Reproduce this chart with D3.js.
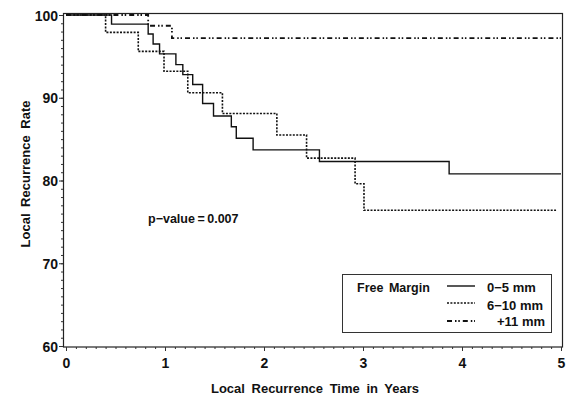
<!DOCTYPE html>
<html><head><meta charset="utf-8">
<script src="https://cdn.jsdelivr.net/npm/d3@7"></script>
<style>body{margin:0;background:#fff}svg{display:block}text{font-family:"Liberation Sans",Arial,sans-serif;font-weight:bold;fill:#111}</style>
</head><body><svg id="c" width="567" height="404"></svg>
<script>
const seriesNames = ["0\u22125  mm", "6\u221210  mm", "+11  mm"];
const solidTimes  = [0, 0.46, 0.83, 0.88, 0.945, 1.11, 1.18, 1.28, 1.38, 1.49, 1.67, 1.72, 1.89, 2.56, 3.87, 5.0];
const solidValues = [100, 98.9, 97.7, 96.5, 95.3, 94.0, 92.8, 91.6, 89.3, 87.8, 86.5, 85.1, 83.7, 82.3, 80.8, 80.8];
const dottedTimes  = [0, 0.40, 0.73, 0.99, 1.23, 1.58, 2.13, 2.43, 2.92, 3.01, 4.95];
const dottedValues = [100, 97.9, 95.6, 93.2, 90.6, 88.1, 85.5, 82.7, 79.6, 76.4, 76.4];
const dashTimes  = [0, 0.83, 1.07, 5.0];
const dashValues = [100, 98.7, 97.2, 97.2];
const xTicks = [0, 1, 2, 3, 4, 5];
const yTicks = [60, 70, 80, 90, 100];

const svg = d3.select("#c");
const x = d3.scaleLinear().domain([0, 5]).range([66, 561]);
const y = d3.scaleLinear().domain([60, 100]).range([346, 15]);

// frame
svg.append("rect").attr("x", 63.5).attr("y", 13.5).attr("width", 499).attr("height", 333.5)
  .attr("fill", "none").attr("stroke", "#222").attr("stroke-width", 1.2);

// x axis
const xa = svg.append("g").attr("transform", "translate(0,347)");
xa.call(d3.axisBottom(x).tickValues(d3.range(0, 5.001, 0.1)).tickSize(2).tickFormat(""));
xa.append("g").call(d3.axisBottom(x).tickValues(xTicks).tickSize(4).tickFormat(d3.format("d")));
xa.selectAll("path.domain").remove();
xa.selectAll("line").attr("stroke", "#333");
xa.selectAll("text").attr("font-size", 14).attr("y", 11).attr("dy", "0.71em").attr("fill", "#111");

// y axis
const ya = svg.append("g").attr("transform", "translate(63,0)");
ya.call(d3.axisLeft(y).tickValues(d3.range(60, 100.001, 1)).tickSize(2).tickFormat(""));
ya.append("g").call(d3.axisLeft(y).tickValues(yTicks).tickSize(4).tickFormat(d3.format("d")));
ya.selectAll("path.domain").remove();
ya.selectAll("line").attr("stroke", "#333");
ya.selectAll("text").attr("font-size", 14).attr("x", -5).attr("dy", "0.36em").attr("fill", "#111");

// titles
svg.append("text").attr("x", 315).attr("y", 393).attr("text-anchor", "middle").attr("font-size", 13)
  .style("word-spacing", "3px").text("Local Recurrence Time in Years");
svg.append("text").attr("transform", "translate(30,174) rotate(-90)").attr("text-anchor", "middle").attr("font-size", 13)
  .style("word-spacing", "3px").text("Local Recurrence Rate");
svg.append("text").attr("x", 148).attr("y", 223).attr("font-size", 12.5).text("p\u2212value\u2009=\u20090.007");

const line = d3.line().x(d => x(d[0])).y(d => y(d[1])).curve(d3.curveStepAfter);
const styles = [
  {dash: null, w: 1.4},
  {dash: "2,1.4", w: 1.6},
  {dash: "5,3,1.5,1.8,1.5,3", w: 1.8}
];
const data = [
  d3.zip(solidTimes, solidValues),
  d3.zip(dottedTimes, dottedValues),
  d3.zip(dashTimes, dashValues)
];
data.forEach((d, i) => {
  svg.append("path").attr("d", line(d)).attr("fill", "none").attr("stroke", "#111")
    .attr("stroke-width", styles[i].w).attr("stroke-dasharray", styles[i].dash);
});

// legend
const lg = svg.append("g");
lg.append("rect").attr("x", 342.5).attr("y", 274.5).attr("width", 209).attr("height", 58)
  .attr("fill", "#fff").attr("stroke", "#333").attr("stroke-width", 1);
lg.append("text").attr("x", 357).attr("y", 292).attr("font-size", 12.5).style("word-spacing", "2px").text("Free Margin");
const lgY = [286, 303, 321];
const lgTx = [487, 487, 497];
const lgBase = [292, 309.5, 326];
seriesNames.forEach((n, i) => {
  lg.append("line").attr("x1", 447).attr("x2", 475).attr("y1", lgY[i]).attr("y2", lgY[i])
    .attr("stroke", "#111").attr("stroke-width", styles[i].w).attr("stroke-dasharray", styles[i].dash);
  lg.append("text").attr("x", lgTx[i]).attr("y", lgBase[i]).attr("font-size", 13).text(n);
});
</script></body></html>
